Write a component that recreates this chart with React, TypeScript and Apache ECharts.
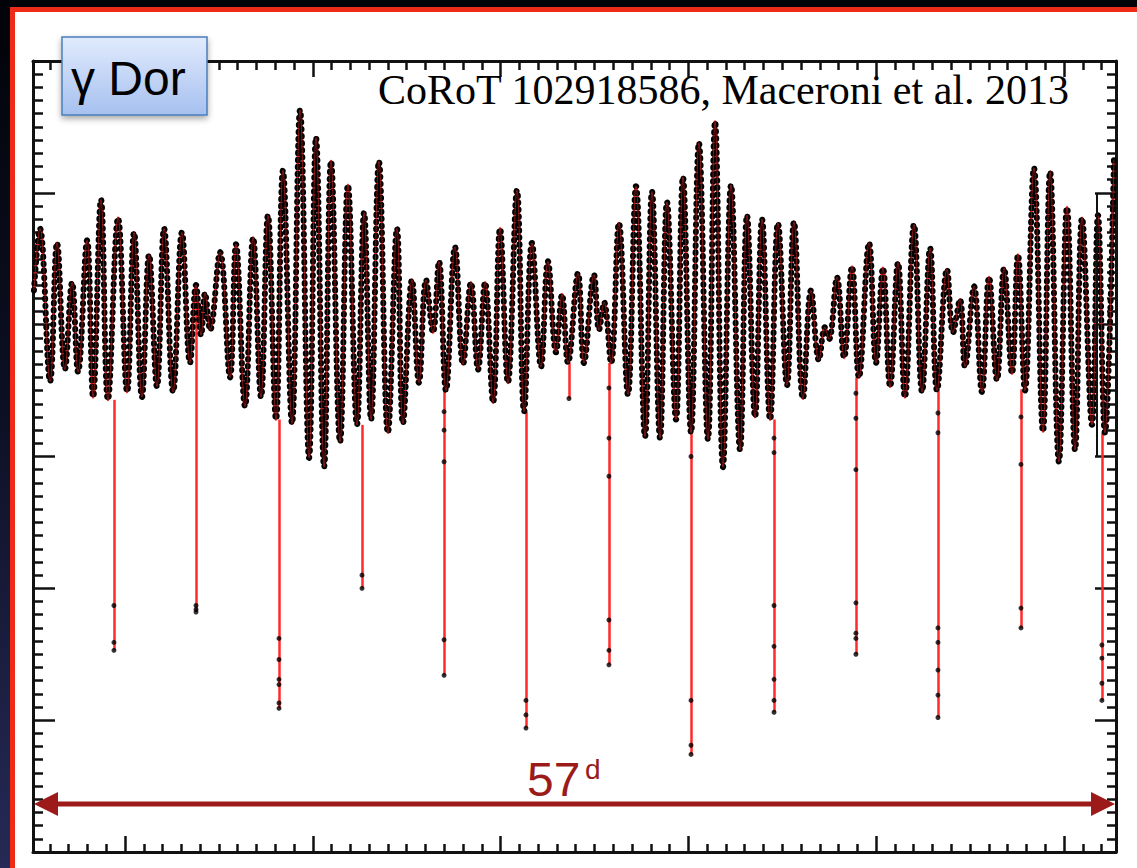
import React, { useEffect, useRef } from "react";
import * as echarts from "echarts";

// Time (days) of successive pulsation maxima/minima
const days = [
  5.15, 5.47, 6.01, 6.38, 6.80, 7.18, 7.50, 7.98, 8.30, 8.72,
  9.09, 9.63, 10.11, 10.48, 10.90, 11.28, 11.70, 12.08, 12.56, 13.03,
  13.46, 13.78, 14.05, 14.26, 14.53, 15.06, 15.59, 15.91, 16.39, 16.82,
  17.24, 17.61, 18.04, 18.41, 18.89, 19.32, 19.80, 20.17, 20.60, 20.97,
  21.45, 21.87, 22.35, 22.73, 23.10, 23.52, 24.00, 24.48, 24.80, 25.28,
  25.65, 26.03, 26.40, 26.72, 27.09, 27.57, 28.00, 28.42, 28.80, 29.17,
  29.60, 29.97, 30.39, 30.87, 31.25, 31.67, 32.15, 32.52, 32.95, 33.27,
  33.59, 34.12, 34.44, 34.97, 35.24, 35.51, 35.88, 36.30, 36.78, 37.21,
  37.69, 38.06, 38.49, 38.86, 39.34, 39.71, 40.14, 40.56, 41.04, 41.42,
  41.84, 42.27, 42.75, 43.12, 43.55, 43.92, 44.35, 44.77, 45.25, 45.62,
  46.10, 46.53, 46.95, 47.27, 47.49, 47.91, 48.29, 48.71, 49.08, 49.62,
  49.99, 50.36, 50.74, 51.16, 51.53, 52.01, 52.44, 52.87, 53.24, 53.77,
  54.09, 54.46, 54.73, 55.21, 55.63, 56.01, 56.43, 56.81, 57.23, 57.55,
  57.92, 58.40, 58.88, 59.26, 59.73, 60.16, 60.59, 60.96, 61.49, 61.81,
  62.18, 62.66,
];

// Relative flux (arbitrary units) at those extrema
const flux = [
  42.6, 47.3, 35.7, 46.2, 36.6, 43.2, 36.4, 46.4, 34.5, 49.5,
  34.3, 48.1, 34.9, 47.0, 34.5, 45.3, 35.3, 47.3, 34.9, 47.0,
  37.1, 43.0, 39.2, 42.4, 39.6, 45.5, 36.0, 46.1, 33.8, 46.6,
  34.5, 48.3, 32.8, 51.7, 32.5, 56.3, 29.9, 54.2, 29.2, 52.4,
  31.1, 50.6, 32.4, 48.5, 32.8, 52.4, 31.8, 47.3, 32.5, 43.4,
  35.6, 43.4, 39.4, 44.8, 35.0, 45.9, 37.0, 43.2, 36.6, 43.2,
  34.1, 47.3, 35.6, 50.2, 33.4, 46.2, 36.8, 44.8, 37.9, 42.3,
  37.1, 43.9, 37.1, 43.8, 39.6, 41.7, 37.1, 47.7, 34.7, 50.5,
  31.5, 50.1, 31.4, 49.3, 32.8, 51.2, 31.8, 53.8, 31.3, 55.4,
  29.2, 50.6, 30.5, 48.3, 33.0, 48.0, 32.8, 47.7, 35.4, 47.8,
  34.4, 42.6, 37.3, 39.8, 38.9, 43.6, 37.5, 44.4, 36.0, 46.2,
  37.1, 44.3, 35.3, 44.7, 34.5, 47.6, 34.9, 45.8, 35.0, 44.2,
  39.4, 41.9, 36.8, 42.9, 34.9, 43.6, 35.8, 44.3, 36.3, 45.3,
  35.0, 51.9, 31.9, 51.6, 29.6, 48.9, 30.5, 48.1, 32.4, 48.3,
  31.8, 52.5,
];

// Eclipses: time, flux where the dip starts, flux at eclipse minimum
const eclipseDay = [9.41, 13.78, 18.20, 22.62, 26.99, 31.35, 33.64, 35.77, 40.14, 44.56, 48.92, 53.29, 57.71, 62.02];
const eclipseTop = [34.3, 41.9, 32.8, 32.4, 35.1, 33.4, 37.1, 37.1, 31.8, 32.8, 36.0, 35.1, 35.1, 31.8];
const eclipseBottom = [15.3, 18.2, 10.9, 20.0, 13.4, 9.4, 34.4, 14.2, 7.4, 10.6, 15.0, 10.2, 17.0, 11.5];

// Individual observations seen on the eclipse branches
const eclipseDotDay = [
  9.41, 9.41,
  13.78, 13.78,
  18.20, 18.20, 18.20, 18.20, 18.20,
  22.62,
  26.99, 26.99, 26.99, 26.99,
  31.35, 31.35,
  35.77, 35.77, 35.77, 35.77, 35.77,
  40.14, 40.14, 40.14,
  44.56, 44.56, 44.56, 44.56, 44.56, 44.56,
  48.92, 48.92, 48.92, 48.92, 48.92, 48.92,
  53.29, 53.29, 53.29, 53.29, 53.29, 53.29,
  57.71, 57.71, 57.71,
  62.02, 62.02, 62.02,
];
const eclipseDotFlux = [
  18.7, 15.9,
  18.7, 18.4,
  16.2, 14.6, 13.1, 12.7, 11.3,
  21.0,
  33.4, 32.0, 29.6, 16.1,
  11.5, 10.4,
  35.2, 31.4, 28.5, 17.6, 15.3,
  30.0, 11.5, 8.1,
  31.4, 30.3, 18.7, 15.6, 13.1, 11.5,
  34.8, 32.9, 29.0, 18.9, 16.6, 16.2,
  33.3, 31.8, 17.0, 15.9, 13.8, 11.9,
  33.0, 29.4, 18.5,
  15.7, 14.7, 12.8,
];

const X_MIN = 5.1;
const X_MAX = 62.77;
const Y_MIN = 0;
const Y_MAX = 60;

const axisStyle = (tickLen: number, minorLen: number) => ({
  axisLine: { show: true, onZero: false, lineStyle: { color: "#111", width: 3 } },
  axisTick: { show: true, inside: true, length: tickLen, lineStyle: { color: "#111", width: 2.5 } },
  minorTick: { show: true, splitNumber: 10, length: minorLen, lineStyle: { color: "#111", width: 2.5 } },
  axisLabel: { show: false },
  splitLine: { show: false },
  minorSplitLine: { show: false },
});

export default function App() {
  const ref = useRef<HTMLDivElement>(null);

  useEffect(() => {
    document.body.style.margin = "0";
    const chart = echarts.init(ref.current!, null, { renderer: "svg" });
    const curve = days.map((d, i) => [d, flux[i]]);
    const dots = eclipseDay
      .map((d, i) => [d, eclipseBottom[i]])
      .concat(eclipseDotDay.map((d, i) => [d, eclipseDotFlux[i]]));

    const option: any = {
      animation: false,
      backgroundColor: "transparent",
      grid: { left: 33, top: 61, width: 1083, height: 791, containLabel: false },
      xAxis: [
        { type: "value", position: "bottom", min: X_MIN, max: X_MAX, splitNumber: 5, ...axisStyle(16, 8) },
        { type: "value", position: "top", min: X_MIN, max: X_MAX, splitNumber: 5, ...axisStyle(16, 9) },
      ],
      yAxis: [
        { type: "value", position: "left", min: Y_MIN, max: Y_MAX, interval: 10, ...axisStyle(22, 10) },
        { type: "value", position: "right", min: Y_MIN, max: Y_MAX, interval: 10, ...axisStyle(21, 9) },
      ],
      series: [
        {
          type: "lines",
          coordinateSystem: "cartesian2d",
          silent: true,
          data: eclipseDay.map((d, i) => ({ coords: [[d, eclipseTop[i]], [d, eclipseBottom[i]]] })),
          lineStyle: { color: "#ff2a2a", width: 2.5, opacity: 1 },
          z: 2,
        },
        {
          type: "line",
          data: curve,
          smooth: 0.4,
          showSymbol: false,
          silent: true,
          lineStyle: { color: "#ff2a2a", width: 3 },
          z: 2,
        },
        {
          type: "line",
          data: curve,
          smooth: 0.4,
          showSymbol: false,
          silent: true,
          lineStyle: { color: "#000", width: 6, type: [0.5, 6.5], cap: "round" },
          z: 3,
        },
        {
          type: "line",
          data: curve,
          smooth: 0.4,
          showSymbol: false,
          silent: true,
          lineStyle: { color: "#ff2a2a", width: 1, opacity: 0.5 },
          z: 4,
        },
        {
          type: "scatter",
          data: dots,
          symbolSize: 5,
          silent: true,
          itemStyle: { color: "#000" },
          z: 5,
        },
      ],
      graphic: [
        {
          type: "line",
          z: 50,
          shape: { x1: 1097, y1: 193, x2: 1097, y2: 457 },
          style: { stroke: "#111", lineWidth: 2 },
        },
        {
          type: "rect",
          z: 100,
          shape: { x: 62, y: 37, width: 145, height: 78 },
          style: {
            fill: new echarts.graphic.LinearGradient(0, 0, 0, 1, [
              { offset: 0, color: "#e1ebfd" },
              { offset: 1, color: "#a6c0ef" },
            ]),
            stroke: "#4a7ebb",
            lineWidth: 1.5,
            shadowBlur: 6,
            shadowColor: "rgba(0,0,0,0.35)",
            shadowOffsetY: 3,
          },
        },
        {
          type: "text",
          z: 101,
          x: 71,
          y: 78,
          style: {
            text: "γ Dor",
            font: '48px "Liberation Sans", Arial, sans-serif',
            fill: "#000",
            align: "left",
            verticalAlign: "middle",
          },
        },
        {
          type: "text",
          z: 101,
          x: 378,
          y: 90,
          style: {
            text: "CoRoT 102918586, Maceroni et al. 2013",
            font: '42px "Liberation Serif", "Times New Roman", serif',
            fill: "#000",
            align: "left",
            verticalAlign: "middle",
            shadowColor: "rgba(0,0,0,0.35)",
            shadowBlur: 6,
            shadowOffsetY: 3,
          },
        },
        {
          type: "line",
          z: 60,
          shape: { x1: 52, y1: 804, x2: 1096, y2: 804 },
          style: { stroke: "#9c1a1a", lineWidth: 5 },
        },
        {
          type: "polygon",
          z: 60,
          shape: { points: [[34, 804], [58, 792], [58, 816]] },
          style: { fill: "#9c1a1a" },
        },
        {
          type: "polygon",
          z: 60,
          shape: { points: [[1115, 804], [1091, 792], [1091, 816]] },
          style: { fill: "#9c1a1a" },
        },
        {
          type: "text",
          z: 60,
          x: 527,
          y: 779,
          style: {
            text: "57",
            font: '48px "Liberation Sans", Arial, sans-serif',
            fill: "#9b1b1b",
            align: "left",
            verticalAlign: "middle",
          },
        },
        {
          type: "text",
          z: 60,
          x: 585,
          y: 769,
          style: {
            text: "d",
            font: '28px "Liberation Sans", Arial, sans-serif',
            fill: "#9b1b1b",
            align: "left",
            verticalAlign: "middle",
          },
        },
      ],
    };

    chart.setOption(option);
    return () => chart.dispose();
  }, []);

  return (
    <div
      style={{
        position: "relative",
        width: 1137,
        height: 868,
        overflow: "hidden",
        background: "linear-gradient(180deg, #020308 0%, #0c0f22 45%, #252a56 100%)",
      }}
    >
      <div
        style={{
          position: "absolute",
          left: 10,
          top: 7,
          right: -10,
          bottom: -10,
          borderLeft: "5px solid #ee2b17",
          borderTop: "5px solid #ee2b17",
          background: "#ffffff",
        }}
      />
      <div ref={ref} style={{ position: "absolute", left: 0, top: 0, width: 1137, height: 868 }} />
    </div>
  );
}
